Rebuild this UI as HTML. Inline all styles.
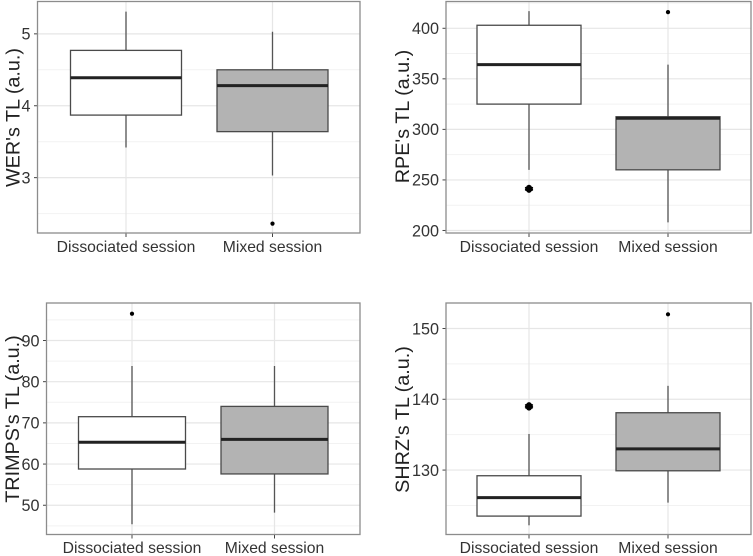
<!DOCTYPE html>
<html>
<head>
<meta charset="utf-8">
<style>
html,body{margin:0;padding:0;background:#fff;}
svg{display:block;font-family:"Liberation Sans",sans-serif;filter:blur(0.35px);}
</style>
</head>
<body>
<svg id="chart" width="753" height="556" viewBox="0 0 753 556" xmlns="http://www.w3.org/2000/svg"></svg>
<script>
// Categories
const categories = ["Dissociated session", "Mixed session"];

// Panel titles
const titles = ["WER's TL (a.u.)", "RPE's TL (a.u.)", "TRIMPS's TL (a.u.)", "SHRZ's TL (a.u.)"];

// Tick labels
const werTicks = [3, 4, 5];
const rpeTicks = [200, 250, 300, 350, 400];
const trimpsTicks = [50, 60, 70, 80, 90];
const shrzTicks = [130, 140, 150];

// Series values: [low whisker, Q1, median, Q3, high whisker]
const werDissociated = [3.42, 3.87, 4.39, 4.77, 5.31];
const werMixed = [3.03, 3.64, 4.28, 4.50, 5.03];
const rpeDissociated = [260, 325, 364, 403, 417];
const rpeMixed = [208, 260, 311, 312.5, 364];
const trimpsDissociated = [45.4, 58.8, 65.3, 71.5, 83.8];
const trimpsMixed = [48.2, 57.6, 66, 74, 83.8];
const shrzDissociated = [122.2, 123.5, 126.1, 129.2, 135.1];
const shrzMixed = [125.4, 129.9, 133, 138.1, 141.9];

// Outliers
const werOutliersD = [];
const werOutliersM = [2.36];
const rpeOutliersD = [240, 241, 242.4];
const rpeOutliersM = [416];
const trimpsOutliersD = [96.5];
const trimpsOutliersM = [];
const shrzOutliersD = [138.8, 139, 139.2];
const shrzOutliersM = [152];

// Axis domains (value at plot bottom, value at plot top)
const werDomain = [2.23, 5.45];
const rpeDomain = [197.5, 426.5];
const trimpsDomain = [42.9, 99.1];
const shrzDomain = [120.9, 153.6];

const panels = [
  {key:"wer", left:37.5, right:360, top:1.5, bottom:233, c:[126,272.5], hw:55.5, domain:werDomain, ticks:werTicks, boxes:[werDissociated,werMixed], out:[werOutliersD,werOutliersM], title:titles[0], titleX:19.5, titleY:117.5, labelY:252},
  {key:"rpe", left:446, right:751, top:1.5, bottom:233, c:[529,668], hw:52, domain:rpeDomain, ticks:rpeTicks, boxes:[rpeDissociated,rpeMixed], out:[rpeOutliersD,rpeOutliersM], title:titles[1], titleX:409, titleY:116.5, labelY:252},
  {key:"trimps", left:46.5, right:360, top:303, bottom:534.5, c:[132,274.5], hw:53.5, domain:trimpsDomain, ticks:trimpsTicks, boxes:[trimpsDissociated,trimpsMixed], out:[trimpsOutliersD,trimpsOutliersM], title:titles[2], titleX:19, titleY:419, labelY:553},
  {key:"shrz", left:446, right:751, top:303, bottom:534.5, c:[529,668], hw:52, domain:shrzDomain, ticks:shrzTicks, boxes:[shrzDissociated,shrzMixed], out:[shrzOutliersD,shrzOutliersM], title:titles[3], titleX:409, titleY:419.5, labelY:553}
];

const NS = "http://www.w3.org/2000/svg";
const svg = document.getElementById("chart");

function make(parent, tag, attrs, text) {
  const el = document.createElementNS(NS, tag);
  for (const k in attrs) el.setAttribute(k, attrs[k]);
  if (text !== undefined) el.textContent = text;
  parent.appendChild(el);
  return el;
}

panels.forEach(function (p) {
  const scaleY = function (v) {
    return p.bottom + (v - p.domain[0]) / (p.domain[1] - p.domain[0]) * (p.top - p.bottom);
  };

  const g = make(svg, "g", {});
  
  

  const bg = make(g, "rect", {x:p.left, y:p.top, width:p.right-p.left, height:p.bottom-p.top, fill:"#fff"});
  
  

  // minor gridlines, halfway between ticks and beyond
  const step = p.ticks[1] - p.ticks[0];
  for (let v = p.ticks[0] - step / 2; v < p.domain[1]; v += step) {
    if (v <= p.domain[0]) continue;
    const minor = make(g, "line", {x1:p.left, x2:p.right, y1:scaleY(v), y2:scaleY(v), stroke:"#f2f2f2", "stroke-width":1});
    
    
  }

  // major horizontal gridlines, tick marks and labels
  p.ticks.forEach(function (t) {
    const y = scaleY(t);
    const grid = make(g, "line", {x1:p.left, x2:p.right, y1:y, y2:y, stroke:"#e6e6e6", "stroke-width":1.2});
    
    
    const tick = make(g, "line", {x1:p.left-3.5, x2:p.left, y1:y, y2:y, stroke:"#444", "stroke-width":1});
    
    
    const label = make(g, "text", {x:p.left-7, y:y+5.8, "text-anchor":"end", "font-size":16.2, fill:"#333"}, String(t));
    
    
  });

  // categories
  categories.forEach(function (name, i) {
    const cx = p.c[i];
    const vgrid = make(g, "line", {x1:cx, x2:cx, y1:p.top, y2:p.bottom, stroke:"#e6e6e6", "stroke-width":1.2});
    
    

    const b = p.boxes[i];
    const whisker = make(g, "line", {x1:cx, x2:cx, y1:scaleY(b[0]), y2:scaleY(b[4]), stroke:"#555", "stroke-width":1.3});
    
    

    const box = make(g, "rect", {x:cx-p.hw, y:scaleY(b[3]), width:p.hw*2, height:scaleY(b[1])-scaleY(b[3]), fill:i===0?"#fff":"#b3b3b3", stroke:"#4a4a4a", "stroke-width":1.3});
    
    

    const med = make(g, "line", {x1:cx-p.hw, x2:cx+p.hw, y1:scaleY(b[2]), y2:scaleY(b[2]), stroke:"#222", "stroke-width":3});
    
    

    const clustered = p.out[i].length > 1;
    p.out[i].forEach(function (v) {
      const dot = make(g, "circle", {cx:cx, cy:scaleY(v), r:clustered ? 2.8 : 2.1, fill:"#000"});
      
      
      if (clustered) {
        const bar = make(g, "ellipse", {cx:cx, cy:scaleY(v), rx:4.2, ry:1.3, fill:"#000"});
        
        
      }
    });

    const xtick = make(g, "line", {x1:cx, x2:cx, y1:p.bottom, y2:p.bottom+4, stroke:"#444", "stroke-width":1});
    
    

    const xlabel = make(g, "text", {x:cx, y:p.labelY, "text-anchor":"middle", "font-size":15.7, fill:"#333"}, name);
    
    
  });

  const frame = make(g, "rect", {x:p.left, y:p.top, width:p.right-p.left, height:p.bottom-p.top, fill:"none", stroke:"#8c8c8c", "stroke-width":1.3});
  
  

  const title = make(g, "text", {x:0, y:0, transform:"translate(" + p.titleX + "," + p.titleY + ") rotate(-90)", "text-anchor":"middle", "font-size":19.8, fill:"#222"}, p.title);
  
  
});
</script>
</body>
</html>
